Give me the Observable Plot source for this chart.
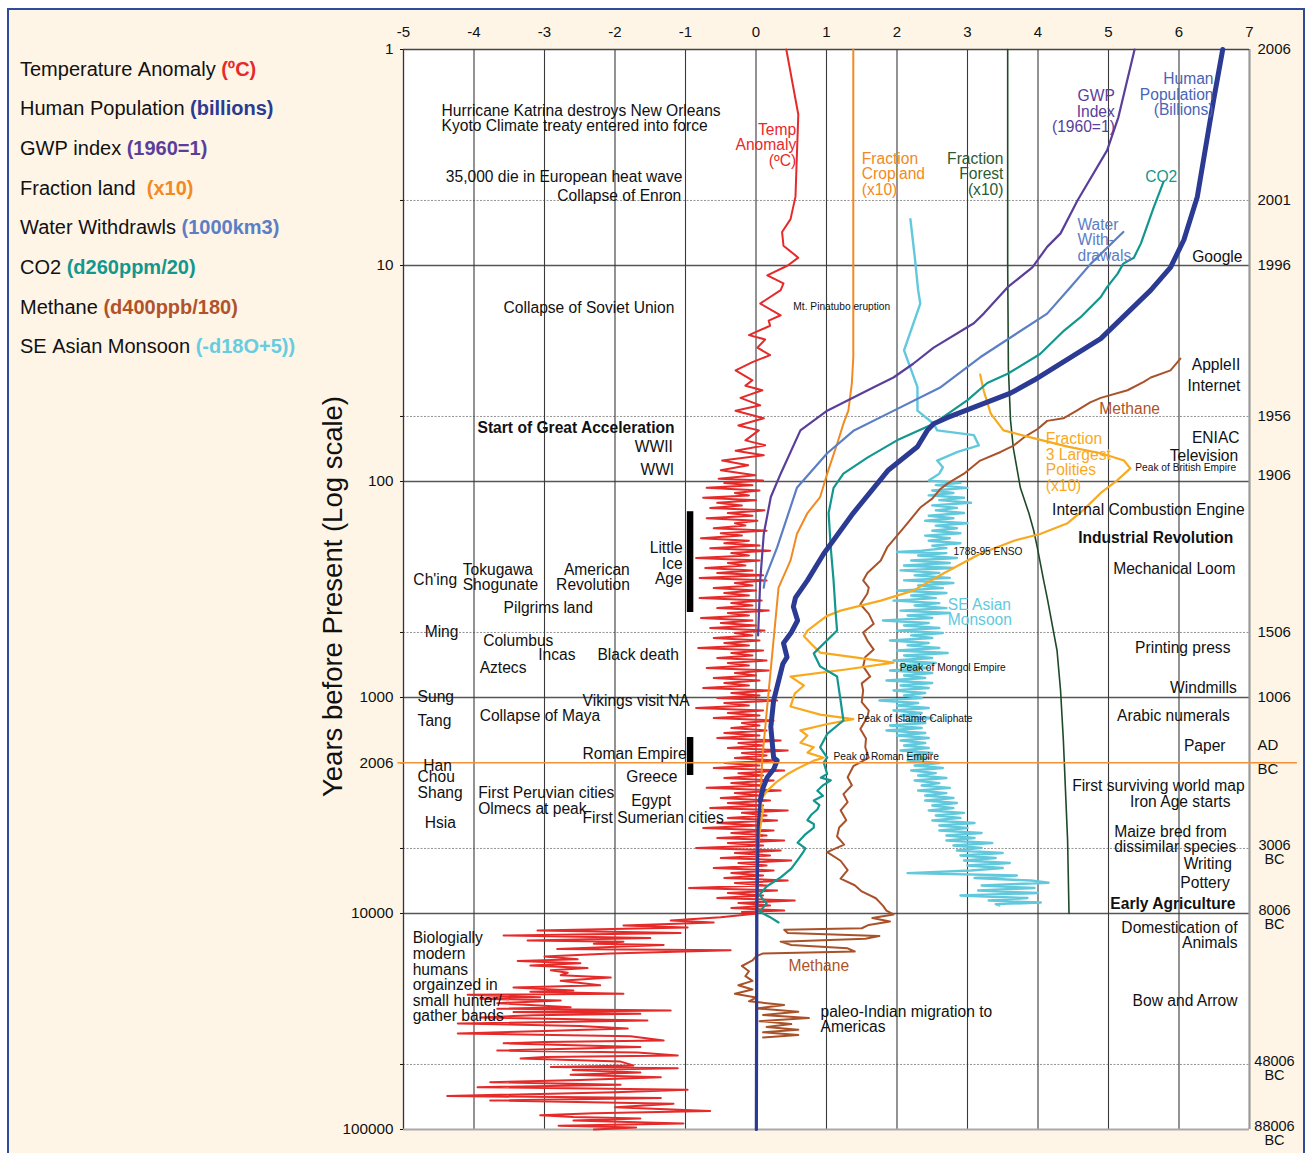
<!DOCTYPE html>
<html>
<head>
<meta charset="utf-8">
<script src="https://cdn.jsdelivr.net/npm/d3@7"></script>
<script src="https://cdn.jsdelivr.net/npm/@observablehq/plot@0.6"></script>
<style>
  body { margin:0; background:#fff; font-family:"Liberation Sans", Arial, Helvetica, sans-serif; }
  #page { position:relative; width:1309px; height:1153px; overflow:hidden; }
  #bg { position:absolute; left:7px; top:8px; width:1298px; height:1170px; border:2.5px solid #2F4C9C; background:#FEF5E7; box-sizing:border-box; }
  #chart { position:absolute; left:0; top:0; }
  .leg { position:absolute; left:20px; font-size:20px; color:#111; white-space:nowrap; line-height:22px; }
  .leg b { font-weight:bold; }
</style>
</head>
<body>
<div id="page">
  <div id="bg"></div>
  <div id="chart"></div>
  <div id="legend"></div>
</div>
<script>
// ---------------- DATA ----------------
const legendItems = [
  ["Temperature Anomaly ", "(\u00baC)", "#E8292B"],
  ["Human Population ", "(billions)", "#2B3A92"],
  ["GWP index ", "(1960=1)", "#5A3E9B"],
  ["Fraction land  ", "(x10)", "#F28A22"],
  ["Water Withdrawls ", "(1000km3)", "#5B7EC4"],
  ["CO2 ", "(d260ppm/20)", "#12978E"],
  ["Methane ", "(d400ppb/180)", "#B0532B"],
  ["SE Asian Monsoon ", "(-d18O+5))", "#66CCE0"]
];

const xTicks = [-5, -4, -3, -2, -1, 0, 1, 2, 3, 4, 5, 6, 7];
const xGrid = [-4, -3, -2, -1, 0, 1, 2, 3, 4, 5, 6];
const leftTicks = [1, 5, 10, 50, 100, 500, 1000, 2006, 5000, 10000, 50000, 100000];
const solidRows = [10, 100, 1000, 10000];
const dottedRows = [5, 50, 500, 5000, 50000];
const rightLabels = [[1, "2006"], [5, "2001"], [10, "1996"], [50, "1956"], [93, "1906"], [500, "1506"], [1000, "1006"], [1669, "AD"], [2154, "BC"]];
const rightBCLabels = [[5000, "3006\nBC"], [10000, "8006\nBC"], [50000, "48006\nBC"], [100000, "88006\nBC"]];
const adYear = 2006;
const adLineX = [-5.08, 7.68];
const blackBars = [[138, 404], [1532, 2297]];
const blackBarX = -0.935;

// [years before present, value]
const tempAnomaly = [
  [1,0.43],[2,0.6],[4.8,0.56],[6.1,0.49],[7,0.37],[8.1,0.39],[9.2,0.6],[10,0.45],[11.1,0.16],[12.1,0.39],
  [13,0.35],[15,0.06],[17,0.35],[18,0.18],[19,0.2],[21,-0.1],[22,0.13],[24,0.02],[26,0.2],[28,-0.05],
  [30.6,-0.29],[34,-0.05],[36,-0.15],[37.8,0.09],[41,-0.22],[44.4,0.06],[47,-0.29],[51,0.11],[55,-0.25],[58,0.04],
  [64.5,-0.15],[68,0.13],[72,-0.29],[75.6,0.11],[80,-0.48],[84,-0.11],[88.6,-0.5],[93.5,-0.01],[97,-0.53],
  [99,0.10],[101.5,-0.45],[104,-0.05],[107,-0.70],[110,0.05],[113,-0.30],[116,-0.10],[119,-0.75],[122,0.00],[125.5,-0.55],
  [129,-0.20],[132.5,-0.65],[136,0.12],[140,-0.40],[144,-0.05],[148,-0.70],[152,0.02],[156,-0.30],[160,-0.15],[164.5,-0.60],
  [169,0.15],[173.5,-0.50],[178,-0.20],[183,-0.78],[188,-0.10],[193,-0.45],[198,0.05],[203.5,-0.65],[209,0.20],[214.5,-0.35],
  [220,-0.10],[226,-0.85],[232,0.05],[238.5,-0.40],[245,-0.15],[251.5,-0.72],[258,-0.05],[265,-0.55],[272,0.10],[279.5,-0.80],
  [287,0.15],[295,-0.30],[303,-0.05],[311.5,-0.60],[320,0.00],[328.5,-0.45],[337,-0.10],[346.5,-0.80],[356,0.08],[365.5,-0.35],
  [375,-0.05],[385.5,-0.55],[396,0.18],[406.5,-0.40],[417,-0.10],[428.5,-0.78],[440,-0.05],[452,-0.50],[464,0.00],[477,-0.65],
  [490,0.12],[503,-0.30],[516,-0.05],[530,-0.60],[545,0.05],[559,-0.45],[574,-0.10],[590,-0.82],[606,0.10],[622,-0.35],
  [639,-0.05],[656,-0.55],[674,0.15],[692,-0.40],[711,-0.10],[730,-0.70],[750,0.18],[770,-0.30],[791,0.00],[812,-0.60],
  [834,0.05],[857,-0.45],[880,-0.10],[904,-0.75],[928,0.20],[953,-0.35],[979,0.05],[1006,-0.55],[1033,0.30],[1061,-0.45],
  [1089,-0.10],[1119,-0.85],[1149,0.10],[1180,-0.40],[1212,0.05],[1245,-0.60],[1278,0.25],[1313,-0.20],[1348,0.05],[1385,-0.35],
  [1422,0.15],[1461,-0.45],[1500,0.05],[1541,-0.55],[1582,0.35],[1625,-0.25],[1669,0.10],[1714,-0.40],[1760,0.45],[1808,-0.20],
  [1856,0.15],[1906,-0.30],[1958,0.30],[2010,-0.45],[2065,0.05],[2120,-0.60],[2178,0.40],[2240,-0.25],[2297,0.10],[2360,-0.45],
  [2423,0.25],[2490,-0.35],[2556,0.10],[2620,-0.70],[2696,0.35],[2770,-0.30],[2843,0.05],[2920,-0.50],[2999,0.20],[3080,-0.40],
  [3162,0.10],[3250,-0.65],[3335,0.45],[3420,-0.20],[3518,0.15],[3610,-0.40],[3711,0.30],[3810,-0.55],[3914,0.05],[4020,-0.75],
  [4128,0.25],[4240,-0.35],[4354,0.15],[4470,-0.55],[4592,0.40],[4720,-0.40],[4844,0.10],[4970,-0.85],[5109,0.35],[5250,-0.30],
  [5389,0.20],[5530,-0.50],[5684,0.50],[5840,-0.25],[5995,0.15],[6160,-0.60],[6323,0.25],[6490,-0.35],[6669,0.10],[6850,-0.45],
  [7034,0.45],[7230,-0.30],[7419,0.15],[7620,-0.95],[7825,0.30],[8040,-0.40],[8254,0.10],[8480,-0.55],[8706,0.55],[8940,-0.25],
  [9183,0.20],[9430,-0.35],[9685,0.40],[9850,-0.20],
  [10000,0.02],[10400,-0.5],[10775,-1.21],[11000,-0.6],[11365,-1.88],[11600,-0.97],[11987,-3.10],[12300,-1.07],[12643,-3.58],[13000,-1.5],
  [13335,-3.24],[13500,-1.88],[13800,-2.30],[14000,-1.31],[14600,-2.82],[14800,-0.36],[15300,-2.06],[15800,-3.0],[16300,-2.53],[16600,-3.38],
  [17000,-2.49],[17400,-3.20],[17900,-2.39],[18300,-2.91],[18800,-2.67],[19300,-2.77],[19800,-2.06],[20500,-2.77],[21500,-2.21],[22000,-3.44],
  [22700,-2.59],[23000,-3.20],[23500,-1.88],[23800,-4.09],[24400,-3.06],[24800,-3.91],[25300,-2.77],[26000,-3.67],[27200,-2.63],[27600,-3.67],
  [28100,-1.21],[28600,-3.44],[29100,-1.64],[29600,-3.16],[30300,-3.91],[31300,-1.54],[32300,-4.23],[33200,-2.5],[34100,-1.82],[35000,-3.0],
  [35900,-4.23],[37000,-1.78],[38700,-1.31],[39300,-3.0],[39900,-3.58],[41500,-1.64],[43100,-3.67],[44000,-1.68],[45400,-1.11],[46200,-3.0],
  [46900,-3.34],[48500,-1.92],[50500,-1.74],[51300,-2.91],[52100,-1.11],[53000,-2.6],[54400,-1.64],[55800,-2.63],[57300,-1.35],[59000,-2.5],
  [60400,-3.77],[62000,-1.92],[63700,-3.95],[65500,-0.97],[67200,-2.0],[70000,-4.38],[71500,-1.35],[73400,-3.77],[76000,-1.17],[78900,-2.0],
  [82000,-0.65],[84000,-2.3],[86000,-3.06],[87600,-2.59],[89000,-1.64],[90900,-2.59],[93700,-1.03],[96000,-2.8],[97800,-1.7],[100000,-2.30]
];

const populationRecent = [
  [1,6.62],[1.72,6.49],[4.8,6.26],[7.6,6.07],[10.2,5.88],[13,5.6],[21.8,4.89],[34,3.94],[39,3.61],[50.5,2.72],
  [54,2.52],[58,2.43],[69,2.29],[89,1.87],[140,1.38],[216,0.96],[287,0.73],[345,0.56],[380,0.53],[440,0.59],
  [500,0.5],[560,0.39],[650,0.44],[700,0.38],[890,0.3],[1033,0.25],[1370,0.21],[1900,0.25],[1958,0.3],[2150,0.25],
  [2340,0.16],[2620,0.1],[3000,0.06]
];
const populationDeep = [[3000,0.06],[4000,0.03],[10000,0.012],[100000,0.005]];

const gwpIndex = [
  [1,5.37],[2.06,5.14],[2.93,4.98],[5,4.56],[7.1,4.32],[8.2,4.13],[10.2,3.92],[12.6,3.57],[16.7,3.23],[18.5,3.09],
  [24,2.52],[28.5,2.23],[33,1.95],[36.6,1.67],[47,1.01],[58,0.63],[92,0.35],[118,0.21],[175,0.11],[287,0.06],[516,0.03]
];

const water = [
  [7,5.21],[9.8,4.75],[12.6,4.46],[16.7,4.13],[26.6,3.18],[36.6,2.62],[48.5,1.87],[58,1.39],[74,1.01],[107,0.58],
  [202,0.3],[280,0.13],[310,0.11]
];

const co2 = [
  [4.1,5.78],[5.4,5.64],[7.9,5.46],[9.2,5.36],[9.8,5.21],[10.9,5.13],[12.6,4.98],[14,4.89],[17.4,4.6],[20,4.37],
  [25.7,4.03],[31.7,3.57],[35,3.28],[42,3.0],[54,2.52],[64.5,2.0],[77.5,1.58],[92,1.24],[107,1.1],[140,1.03],
  [202,1.06],[287,1.1],[406,1.13],[490,1.15],[625,0.82],[718,0.91],[800,1.15],[1033,1.2],[1278,1.24],[1475,1.01],
  [1700,0.91],[1900,1.01],[2000,0.96],[2260,1.01],[2350,0.92],[2420,1.06],[2550,0.95],[2700,0.87],[2850,0.95],[3000,0.82],
  [3150,0.9],[3300,0.87],[3500,0.78],[3700,0.73],[3850,0.82],[4000,0.82],[4300,0.7],[4700,0.59],[5000,0.7],[5200,0.67],
  [5600,0.6],[6200,0.5],[6800,0.35],[7500,0.15],[8200,0.05],[9000,0.15],[9800,0.05],[10400,0.2],[11000,0.32]
];

const methane = [
  [27,6.02],[30.6,5.88],[33,5.6],[34.6,5.5],[37.8,5.27],[41,4.89],[43,4.74],[47,4.55],[51,4.36],[52.4,4.13],
  [57,4.0],[62.5,3.8],[68,3.66],[73,3.47],[80,3.18],[92,2.95],[102,2.72],[108,2.62],[120,2.5],[132,2.33],
  [163,2.1],[202,1.86],[232,1.77],[265,1.58],[287,1.52],[310,1.6],[330,1.58],[370,1.48],[410,1.6],[456,1.67],
  [500,1.52],[545,1.58],[600,1.67],[650,1.55],[718,1.52],[800,1.62],[860,1.5],[928,1.52],[1050,1.5],[1150,1.6],
  [1230,1.58],[1400,1.48],[1550,1.56],[1700,1.55],[1900,1.6],[2080,1.38],[2340,1.3],[2550,1.36],[2800,1.24],[3050,1.3],
  [3330,1.2],[3700,1.28],[4000,1.18],[4400,1.15],[4800,1.25],[5200,1.01],[5700,1.2],[6300,1.3],[6900,1.2],[7400,1.4],
  [7900,1.5],[8500,1.7],[9200,1.8],[9700,1.85],[10100,1.95],[10500,1.65],[10900,1.9],[11300,1.6],[11700,1.5],[11900,0.4],
  [12300,0.45],[12700,1.75],[13100,1.55],[13500,0.35],[14000,0.5],[14500,1.3],[15000,1.4],[15300,0.1],[15800,0.0],[16500,-0.05],
  [17500,-0.2],[18500,-0.1],[19500,-0.15],[20500,-0.05],[21500,-0.25],[22500,-0.05],[23500,-0.3],[24500,0.0],[25500,-0.1],[26500,0.4],
  [27500,0.0],[28500,0.6],[29500,0.1],[30500,0.75],[31500,0.05],[32500,0.5],[33500,0.15],[34500,0.6],[35500,0.1],[36500,0.6],[37500,0.1]
];

const cropland = [
  [1,1.38],[20,1.38],[26.6,1.38],[35,1.36],[47,1.31],[54,1.24],[67,1.15],[92,1.01],[118,0.91],[140,0.73],
  [175,0.58],[232,0.49],[310,0.32],[1900,0.09],[3000,0.06],[5000,0.03],[10000,0.02]
];

const forest = [
  [1,3.57],[10,3.57],[30,3.58],[52,3.61],[70,3.65],[107,3.75],[140,3.87],[169,3.94],[202,3.99],[287,4.08],
  [345,4.13],[606,4.27],[928,4.32],[1582,4.36],[4600,4.42],[10000,4.44]
];

const polities = [
  [32,3.18],[38,3.23],[48.5,3.33],[58,3.51],[62,3.85],[69,4.42],[74,4.89],[80,5.22],[87,5.31],[99,5.12],
  [113,4.89],[135,4.65],[156,4.42],[175,4.03],[188,3.66],[216,3.18],[265,2.67],[320,2.23],[356,1.77],[396,1.2],
  [420,1.0],[490,0.73],[520,0.68],[580,0.82],[620,0.91],[690,1.95],[740,1.3],[800,0.49],[880,0.68],[960,0.55],
  [1100,0.49],[1200,0.91],[1260,1.38],[1330,1.0],[1420,0.63],[1500,0.73],[1620,0.63],[1700,0.82],[1800,0.73],[1900,0.96],
  [1960,0.82],[2130,0.59],[2260,0.45],[2450,0.3],[2700,0.16],[3000,0.06],[3330,0.1],[4000,0.06],[4900,0.03],[5600,0.02]
];

const monsoon = [
  [6.1,2.19],[9,2.25],[13,2.3],[15,2.33],[24.7,2.1],[36.6,2.29],[47,2.29],[54,2.52],[58,2.57],[61,3.09],
  [68,3.16],[73,2.86],[80,2.57],[86,2.65],[92,2.6],
  [99,2.45],[101.5,2.9],[104,2.55],[107,3.0],[110,2.5],[113,2.8],[116,2.45],[119,2.95],[122,2.6],[125.5,3.05],
  [129,2.5],[132.5,2.85],[136,2.55],[140,2.95],[144,2.45],[148,2.8],[152,2.4],[156,3.0],[160,2.55],[164.5,2.85],
  [169,2.5],[173.5,2.9],[178,2.4],[183,2.75],[188,2.45],[193,2.9],[198,2.5],[203.5,2.7],[209,2.35],[212,2.0],
  [214.5,2.7],[220,2.3],[226,2.85],[232,2.2],[238.5,2.75],[245,2.1],[251.5,2.8],[258,2.05],[265,2.6],[272,2.25],
  [279.5,2.75],[287,2.1],[295,2.8],[303,2.3],[311.5,2.65],[320,2.0],[328.5,2.7],[337,2.2],[346.5,2.55],[356,1.95],
  [365.5,2.6],[375,2.25],[385.5,2.7],[396,2.05],[406.5,2.75],[417,2.15],[428.5,2.5],[440,1.8],[452,2.45],[464,2.1],
  [477,2.6],[490,2.0],[503,2.65],[516,2.2],[530,2.5],[545,1.9],[559,2.45],[574,2.15],[590,2.6],[606,2.0],
  [622,2.72],[639,2.1],[656,2.5],[674,1.95],[692,2.55],[711,2.05],[730,2.45],[750,1.9],[770,2.5],[791,2.1],
  [812,2.4],[834,1.85],[857,2.5],[880,2.05],[904,2.45],[928,1.95],[953,2.4],[979,2.1],[1006,2.35],[1033,1.75],
  [1061,2.3],[1089,2.0],[1119,2.45],[1149,1.95],[1180,2.35],[1212,2.05],[1245,2.5],[1278,2.1],[1313,2.4],[1348,1.9],
  [1385,2.35],[1422,1.85],[1461,2.4],[1500,2.0],[1541,2.45],[1582,2.05],[1625,2.4],[1669,2.1],[1714,2.45],[1760,2.05],
  [1808,2.5],[1856,2.15],[1906,2.45],[1958,2.15],[2010,2.6],[2065,2.25],[2120,2.65],[2178,2.2],[2240,2.55],[2297,2.3],
  [2360,2.7],[2423,2.25],[2490,2.6],[2556,2.35],[2620,2.75],[2696,2.3],[2770,2.7],[2843,2.4],[2920,2.8],[2999,2.4],
  [3080,2.85],[3162,2.5],[3250,2.8],[3335,2.45],[3420,2.95],[3518,2.55],[3610,2.9],[3711,2.5],[3810,3.1],[3914,2.6],
  [4020,3.0],[4128,2.6],[4240,3.2],[4354,2.7],[4470,3.1],[4592,2.7],[4720,3.35],[4844,2.8],[4970,3.2],[5109,2.85],
  [5250,3.5],[5389,2.9],[5530,3.4],[5684,2.95],[5840,3.6],[5995,3.0],[6160,3.5],[6323,3.05],[6500,2.15],[6669,3.7],
  [6850,3.1],[7034,3.9],[7200,4.15],[7419,3.2],[7620,3.95],[7825,3.15],[8040,4.0],[8254,2.9],[8480,3.85],[8706,3.3],
  [8900,4.04],[9050,3.4],[9183,3.45]
];

// annotations: [text, x value, years BP]
const notesStart = [
  ["Hurricane Katrina destroys New Orleans", -4.46, 1.92],
  ["Kyoto Climate treaty entered into force", -4.46, 2.25],
  ["35,000 die in European heat wave", -4.40, 3.91],
  ["Collapse of Soviet Union", -3.58, 15.8],
  ["Tokugawa\nShogunate", -4.16, 278],
  ["Ch'ing", -4.86, 287],
  ["Pilgrims land", -3.58, 387],
  ["Ming", -4.70, 495],
  ["Columbus", -3.87, 545],
  ["Incas", -3.09, 639],
  ["Black death", -2.25, 639],
  ["Aztecs", -3.92, 734],
  ["Sung", -4.80, 990],
  ["Vikings visit NA", -2.46, 1033],
  ["Tang", -4.80, 1278],
  ["Collapse of Maya", -3.92, 1212],
  ["Roman Empire", -2.46, 1817],
  ["Han", -4.72, 2065],
  ["Chou", -4.80, 2322],
  ["Shang", -4.80, 2782],
  ["Hsia", -4.70, 3793],
  ["Greece", -1.84, 2322],
  ["First Peruvian cities", -3.94, 2782],
  ["Olmecs at peak", -3.94, 3266],
  ["Egypt", -1.77, 3000],
  ["First Sumerian cities", -2.46, 3631],
  ["Biologially\nmodern\nhumans\norgainzed in\nsmall hunter/\ngather bands", -4.87, 19770],
  ["paleo-Indian migration to\nAmericas", 0.915, 30970],
  ["Maize bred from\ndissimilar species", 5.08, 4542]
];
const notesEnd = [
  ["Collapse of Enron", -1.06, 4.79],
  ["Google", 6.9, 9.09],
  ["AppleII", 6.87, 29],
  ["Internet", 6.87, 36],
  ["WWII", -1.18, 68.9],
  ["WWI", -1.16, 88],
  ["ENIAC", 6.86, 63.2],
  ["Television", 6.84, 75.8],
  ["Internal Combustion Engine", 6.93, 136],
  ["Mechanical Loom", 6.8, 255],
  ["Little\nIce\nAge", -1.04, 240],
  ["American\nRevolution", -1.79, 278],
  ["Domestication of\nAnimals", 6.83, 12650],
  ["Bow and Arrow", 6.83, 25290],
  ["Pottery", 6.72, 7262],
  ["Writing", 6.75, 5870],
  ["First surviving world map", 6.93, 2556],
  ["Iron Age starts", 6.73, 3060],
  ["Paper", 6.66, 1669],
  ["Arabic numerals", 6.72, 1212],
  ["Windmills", 6.82, 899],
  ["Printing press", 6.73, 593]
];
const boldStart = [["Start of Great Acceleration", -3.95, 56.8]];
const boldEnd = [["Industrial Revolution", 6.77, 182], ["Early Agriculture", 6.80, 8990]];
const smallNotes = [
  ["Mt. Pinatubo eruption", 0.53, 15.5],
  ["Peak of British Empire", 5.38, 86.1],
  ["1788-95 ENSO", 2.8, 211],
  ["Peak of Mongol Empire", 2.04, 726],
  ["Peak of Islamic Caliphate", 1.44, 1250],
  ["Peak of Roman Empire", 1.10, 1876]
];
// series labels: [text, x, years, colour]
const seriesLabelsStart = [
  ["Fraction\nCropland\n(x10)", 1.50, 3.79, "#F28A22"],
  ["CO2", 5.52, 3.91, "#12978E"],
  ["Water\nWith-\ndrawals", 4.56, 7.66, "#5B7EC4"],
  ["Methane", 4.87, 46.4, "#B0532B"],
  ["Fraction\n3 Largest\nPolities\n(x10)", 4.11, 81.6, "#F8A91E"],
  ["SE Asian\nMonsoon", 2.72, 404, "#62C9DD"],
  ["Methane", 0.46, 17590, "#B0532B"]
];
const seriesLabelsEnd = [
  ["Temp\nAnomaly\n(\u00baC)", 0.57, 2.78, "#E8292B"],
  ["Fraction\nForest\n(x10)", 3.51, 3.79, "#2D5A30"],
  ["GWP\nIndex\n(1960=1)", 5.09, 1.94, "#5A3E9B"],
  ["Human\nPopulation\n(Billions)", 6.49, 1.62, "#4A64B6"]
];
const yTitle = ["Years before Present (Log scale)"];

// ---------------- LEGEND ----------------
const legendCenters = [69, 108, 148, 188, 227, 267, 307, 346];
const legendEl = document.getElementById("legend");
legendItems.forEach((d, i) => {
  const div = document.createElement("div");
  div.className = "leg";
  div.style.top = (legendCenters[i] - 11) + "px";
  div.innerHTML = `${d[0].replace(/ /g, "&nbsp;")}<b style="color:${d[2]}">${d[1]}</b>`;
  legendEl.appendChild(div);
});

// ---------------- CHART ----------------
const X = d => d[1], Y = d => d[0];
const NX = d => d[1], NY = d => d[2], NT = d => d[0];
const font = "Liberation Sans, Arial, Helvetica, sans-serif";
const fs = 15.6;

const chart = Plot.plot({
  width: 1309,
  height: 1153,
  marginLeft: 403,
  marginRight: 60,
  marginTop: 49,
  marginBottom: 24,
  style: { background: "transparent", fontFamily: font, fontSize: "15px", color: "#111" },
  x: { domain: [-5, 7], axis: null },
  y: { type: "log", domain: [1, 100000], reverse: true, axis: null },
  marks: [
    Plot.frame({ fill: "white", stroke: "none" }),
    Plot.ruleY(dottedRows, { stroke: "#777", strokeWidth: 0.8, strokeDasharray: "2,1.5" }),
    Plot.ruleY(solidRows, { stroke: "#555", strokeWidth: 1.4 }),
    Plot.ruleX(xGrid, { stroke: "#3a3a3a", strokeWidth: 1.1 }),
    Plot.ruleX([-5], { stroke: "#333", strokeWidth: 1.3 }),
    Plot.ruleX([7], { stroke: "#999", strokeWidth: 2.2 }),
    Plot.ruleY([1], { stroke: "#444", strokeWidth: 1.6 }),
    Plot.ruleY([100000], { stroke: "#aaa", strokeWidth: 2.2 }),
    Plot.axisX({ anchor: "top", ticks: xTicks, tickSize: 0, tickPadding: 13, tickFormat: d => String(d), fontSize: 15, label: null }),
    Plot.axisY({ anchor: "left", ticks: leftTicks, tickSize: 3, tickPadding: 7, tickFormat: d => String(d), fontSize: 15.3, label: null }),
    Plot.text(rightLabels, { y: Y, text: X, frameAnchor: "right", dx: 8, textAnchor: "start", fontSize: 15 }),
    Plot.text(rightBCLabels, { y: Y, text: X, frameAnchor: "right", dx: 25, textAnchor: "middle", lineAnchor: "top", dy: -8, fontSize: 14.5, lineHeight: 0.96 }),
    Plot.text(yTitle, { frameAnchor: "left", textAnchor: "middle", dx: -70, dy: 7, rotate: -90, fontSize: 27.5, fill: "#111" }),

    // series
    Plot.line(tempAnomaly, { x: X, y: Y, stroke: "#E52A2A", strokeWidth: 2 }),
    Plot.line(forest, { x: X, y: Y, stroke: "#1F4A28", strokeWidth: 1.6 }),
    Plot.line(monsoon, { x: X, y: Y, stroke: "#62C9DD", strokeWidth: 2.4 }),
    Plot.line(methane, { x: X, y: Y, stroke: "#A9522A", strokeWidth: 2 }),
    Plot.line(cropland, { x: X, y: Y, stroke: "#F28A22", strokeWidth: 2 }),
    Plot.line(polities, { x: X, y: Y, stroke: "#F8A91E", strokeWidth: 2.2 }),
    Plot.line(co2, { x: X, y: Y, stroke: "#12978E", strokeWidth: 2.2 }),
    Plot.line(water, { x: X, y: Y, stroke: "#5B7EC4", strokeWidth: 2.2 }),
    Plot.line(gwpIndex, { x: X, y: Y, stroke: "#5A3E9B", strokeWidth: 2.2 }),
    Plot.line(populationDeep, { x: X, y: Y, stroke: "#2B3A92", strokeWidth: 3.2 }),
    Plot.line(populationRecent, { x: X, y: Y, stroke: "#2B3A92", strokeWidth: 5 }),

    Plot.ruleX(blackBars, { x: blackBarX, y1: d => d[0], y2: d => d[1], stroke: "#000", strokeWidth: 6.5 }),
    Plot.ruleY([adYear], { x1: adLineX[0], x2: adLineX[1], stroke: "#F4923A", strokeWidth: 1.6, clip: false }),

    // text
    Plot.text(notesStart, { x: NX, y: NY, text: NT, textAnchor: "start", fontSize: fs, lineHeight: 1.0, fill: "#111" }),
    Plot.text(notesEnd, { x: NX, y: NY, text: NT, textAnchor: "end", fontSize: fs, lineHeight: 1.0, fill: "#111" }),
    Plot.text(boldStart, { x: NX, y: NY, text: NT, textAnchor: "start", fontSize: fs, fontWeight: "bold", fill: "#111" }),
    Plot.text(boldEnd, { x: NX, y: NY, text: NT, textAnchor: "end", fontSize: fs, fontWeight: "bold", fill: "#111" }),
    Plot.text(smallNotes, { x: NX, y: NY, text: NT, textAnchor: "start", fontSize: 10.2, fill: "#111" }),
    Plot.text(seriesLabelsStart, { x: NX, y: NY, text: NT, textAnchor: "start", fill: d => d[3], fontSize: fs, lineHeight: 1.0 }),
    Plot.text(seriesLabelsEnd, { x: NX, y: NY, text: NT, textAnchor: "end", fill: d => d[3], fontSize: fs, lineHeight: 1.0 })
  ]
});
document.getElementById("chart").appendChild(chart);
</script>
</body>
</html>
